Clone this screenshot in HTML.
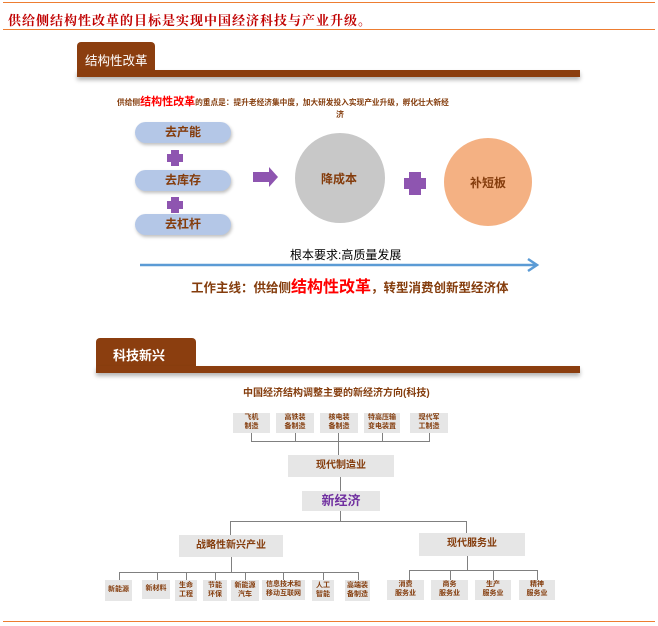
<!DOCTYPE html>
<html><head><meta charset="utf-8"><style>
body{margin:0;width:658px;height:626px;background:#fff;position:relative;overflow:hidden;font-family:"Liberation Sans","Noto Sans CJK SC",sans-serif;}
.a{position:absolute;}
.ln{position:absolute;background:#ed7d31;}
.t{position:absolute;white-space:nowrap;}
.pill{position:absolute;left:135px;width:96px;height:21px;border-radius:11px;background:#b4c7e7;box-shadow:1px 2px 3px rgba(0,0,0,.25);color:#843c0c;font-size:12px;font-weight:bold;text-align:center;line-height:21px;}
.box{position:absolute;background:#e6e6e6;color:#843c0c;font-weight:bold;text-align:center;display:flex;align-items:center;justify-content:center;line-height:1.25;}
.s{font-size:7px;}
.g{position:absolute;background:#808080;}
</style></head><body>
<div class="ln" style="left:3px;top:2px;width:652px;height:1px"></div>
<div class="t" style="left:8px;top:10px;font-size:13px;font-weight:bold;color:#c00000;letter-spacing:1px;font-family:'Noto Serif CJK SC',serif">供给侧结构性改革的目标是实现中国经济科技与产业升级。</div>
<div class="ln" style="left:3px;top:29px;width:652px;height:1px"></div>
<div class="ln" style="left:3px;top:621px;width:652px;height:1px"></div>

<!-- section 1 -->
<div class="a" style="left:77px;top:42px;width:78px;height:30px;background:#8b3e0f;border-radius:4px 4px 0 0"></div>
<div class="a" style="left:77px;top:70px;width:503px;height:7px;background:#8b3e0f;box-shadow:0 3px 4px rgba(0,0,0,.3)"></div>
<div class="t" style="left:85px;top:50px;color:#fff;font-size:12.5px">结构性改革</div>
<div class="t" style="left:117px;top:93px;font-size:7.7px;color:#843c0c;font-weight:bold">供给侧<span style="color:#ff0000;font-size:11px">结构性改革</span>的重点是：提升老经济集中度，加大研发投入实现产业升级，孵化壮大新经</div>
<div class="t" style="left:336px;top:109px;font-size:8px;color:#843c0c;font-weight:bold">济</div>
<div class="pill" style="top:122px">去产能</div>
<div class="pill" style="top:170px">去库存</div>
<div class="pill" style="top:214px">去杠杆</div>
<svg class="a" style="left:0;top:0" width="658" height="626">
<g fill="#8e55b0">
<path d="M171 150h8v4h4v8h-4v4h-8v-4h-4v-8h4z"/>
<path d="M171 197h8v4h4v8h-4v4h-8v-4h-4v-8h4z"/>
<path d="M409 172h12v6h5v11h-5v6h-12v-6h-5v-11h5z"/>
<path d="M253 172h16v-5l9 10-9 10v-5h-16z"/>
</g>
<circle cx="340" cy="178" r="46" fill="#c8c8c8" stroke="#fff" stroke-width="2"/>
<circle cx="488" cy="182" r="45" fill="#f4b183" stroke="#fff" stroke-width="2"/>
<line x1="140" y1="265" x2="535" y2="265" stroke="#5b9bd5" stroke-width="2.5"/>
<path d="M528 259l9 6-9 6" fill="none" stroke="#5b9bd5" stroke-width="2.5"/>
</svg>
<div class="t" style="left:321px;top:170px;font-size:12px;font-weight:bold;color:#843c0c">降成本</div>
<div class="t" style="left:470px;top:174px;font-size:12px;font-weight:bold;color:#843c0c">补短板</div>
<div class="t" style="left:290px;top:246px;font-size:12px;color:#000">根本要求:高质量发展</div>
<div class="t" style="left:191px;top:273px;font-size:12.5px;color:#843c0c;font-weight:bold">工作主线：供给侧<span style="color:#ff0000;font-size:16px">结构性改革</span>，转型消费创新型经济体</div>

<!-- section 2 -->
<div class="a" style="left:96px;top:338px;width:100px;height:30px;background:#8b3e0f;border-radius:4px 4px 0 0"></div>
<div class="a" style="left:96px;top:366px;width:484px;height:7px;background:#8b3e0f;box-shadow:0 3px 4px rgba(0,0,0,.3)"></div>
<div class="t" style="left:113px;top:345px;color:#fff;font-size:13px;font-weight:bold">科技新兴</div>
<div class="t" style="left:243px;top:384px;font-size:10px;font-weight:bold;color:#843c0c">中国经济结构调整主要的新经济方向(科技)</div>

<div class="box s" style="left:233px;top:413px;width:37px;height:20px">飞机<br>制造</div>
<div class="box s" style="left:276px;top:413px;width:38px;height:20px">高铁装<br>备制造</div>
<div class="box s" style="left:320px;top:413px;width:38px;height:20px">核电装<br>备制造</div>
<div class="box s" style="left:364px;top:413px;width:36px;height:20px">特高压输<br>变电装置</div>
<div class="box s" style="left:410px;top:413px;width:38px;height:20px">现代军<br>工制造</div>
<div class="g" style="left:251px;top:433px;width:1px;height:8px"></div>
<div class="g" style="left:295px;top:433px;width:1px;height:8px"></div>
<div class="g" style="left:338px;top:433px;width:1px;height:22px"></div>
<div class="g" style="left:382px;top:433px;width:1px;height:8px"></div>
<div class="g" style="left:429px;top:433px;width:1px;height:8px"></div>
<div class="g" style="left:251px;top:441px;width:179px;height:1px"></div>
<div class="box" style="left:288px;top:455px;width:106px;height:22px;font-size:10px">现代制造业</div>
<div class="g" style="left:340px;top:477px;width:1px;height:14px"></div>
<div class="box" style="left:302px;top:491px;width:78px;height:20px;font-size:13px;color:#7030a0">新经济</div>
<div class="g" style="left:340px;top:511px;width:1px;height:10px"></div>
<div class="g" style="left:230px;top:521px;width:237px;height:1px"></div>
<div class="g" style="left:230px;top:521px;width:1px;height:14px"></div>
<div class="g" style="left:466px;top:521px;width:1px;height:12px"></div>
<div class="box" style="left:179px;top:535px;width:104px;height:22px;font-size:10px">战略性新兴产业</div>
<div class="box" style="left:419px;top:533px;width:106px;height:23px;font-size:10px">现代服务业</div>
<div class="g" style="left:231px;top:557px;width:1px;height:15px"></div>
<div class="g" style="left:467px;top:556px;width:1px;height:14px"></div>
<div class="g" style="left:119px;top:572px;width:240px;height:1px"></div>
<div class="g" style="left:409px;top:570px;width:129px;height:1px"></div>

<div class="g" style="left:119px;top:572px;width:1px;height:8px"></div>
<div class="g" style="left:157px;top:572px;width:1px;height:8px"></div>
<div class="g" style="left:186px;top:572px;width:1px;height:8px"></div>
<div class="g" style="left:215px;top:572px;width:1px;height:8px"></div>
<div class="g" style="left:245px;top:572px;width:1px;height:8px"></div>
<div class="g" style="left:283px;top:572px;width:1px;height:8px"></div>
<div class="g" style="left:323px;top:572px;width:1px;height:8px"></div>
<div class="g" style="left:358px;top:572px;width:1px;height:8px"></div>
<div class="g" style="left:409px;top:570px;width:1px;height:10px"></div>
<div class="g" style="left:450px;top:570px;width:1px;height:10px"></div>
<div class="g" style="left:493px;top:570px;width:1px;height:10px"></div>
<div class="g" style="left:537px;top:570px;width:1px;height:10px"></div>

<div class="box s" style="left:105px;top:580px;width:27px;height:21px">新能源</div>
<div class="box s" style="left:142px;top:580px;width:28px;height:19px">新材料</div>
<div class="box s" style="left:175px;top:580px;width:22px;height:21px">生命<br>工程</div>
<div class="box s" style="left:203px;top:580px;width:24px;height:21px">节能<br>环保</div>
<div class="box s" style="left:231px;top:580px;width:28px;height:21px">新能源<br>汽车</div>
<div class="box s" style="left:262px;top:580px;width:43px;height:20px">信息技术和<br>移动互联网</div>
<div class="box s" style="left:312px;top:580px;width:22px;height:21px">人工<br>智能</div>
<div class="box s" style="left:345px;top:580px;width:25px;height:21px">高端装<br>备制造</div>
<div class="box s" style="left:387px;top:580px;width:37px;height:20px">消费<br>服务业</div>
<div class="box s" style="left:431px;top:580px;width:37px;height:20px">商务<br>服务业</div>
<div class="box s" style="left:475px;top:580px;width:36px;height:20px">生产<br>服务业</div>
<div class="box s" style="left:519px;top:580px;width:36px;height:20px">精神<br>服务业</div>
</body></html>
